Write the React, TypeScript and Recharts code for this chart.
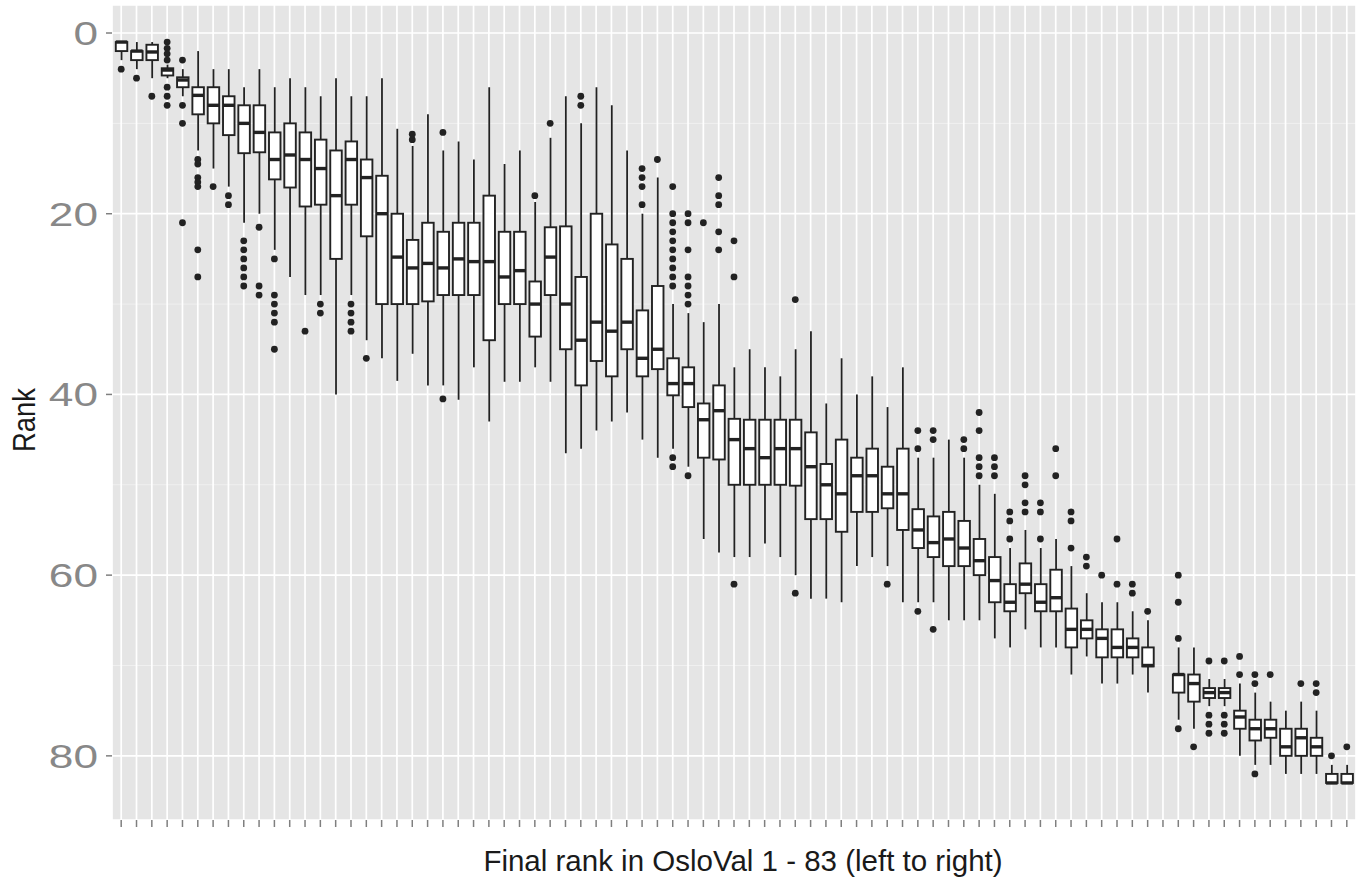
import React from "react";
import {
  Bar,
  CartesianGrid,
  ComposedChart,
  Label,
  Scatter,
  XAxis,
  YAxis,
} from "recharts";

// 81 final-rank categories (category 69 has no data)
const categoryIds = Array.from({ length: 81 }, (_, i) => i + 1);

const whiskerLo = [
  1, 1, 1, 3.5, 4, 2, 4, 4, 6, 4,
  6, 5, 6, 7, 5, 7, 7, 5, 10.6, 12.5,
  9, 13, 12, 14, 6, 14.5, 13, 18.7, 11.6, 7,
  10, 6, 8, 13, 20, 16, 30, 31, 32, 30,
  37, 35, 37, 38, 35, 33, 41, 36, 40, 38,
  41.4, 37, 47, 47, 45, 47, 50, 51, 57, 55,
  57, 56, 59, 62, 63, 63, 64, 65, null, 68,
  68, 71.5, 71.5, 72, 73, 74, 75, 74, 75, 81,
  81,
];

const q1s = [
  1, 2, 1.3, 3.9, 4.9, 6, 6, 7, 8, 8,
  11, 10, 11, 11.8, 13, 12, 14, 15.8, 20, 22.9,
  21, 22, 21, 21, 18, 22, 22, 27.5, 21.5, 21.4,
  27, 20, 23.4, 25, 30.7, 28, 36, 37, 41, 39,
  42.7, 42.8, 42.8, 42.8, 42.8, 44.2, 47.7, 45, 47, 46,
  48, 46, 52.7, 53.5, 53, 54, 56, 58, 61, 58.7,
  61, 59.4, 63.7, 65, 66, 66, 67, 68, null, 71,
  71, 72.5, 72.5, 75, 76, 76, 77, 77, 78, 82,
  82,
];

const medians = [
  1, 2, 2.1, 4.1, 5.2, 6.9, 8, 8, 10, 11,
  14, 13.5, 14, 15, 18, 14, 16, 20, 24.8, 26,
  25.5, 26, 25, 25.3, 25.3, 27, 26.3, 30, 24.8, 30,
  34, 32, 33, 32, 36, 35, 38.8, 38.8, 42.8, 41.8,
  45, 46, 47, 46, 46, 48, 50, 51, 49, 49,
  51, 51, 55, 56.4, 56, 57, 58.4, 60.6, 63, 61,
  63, 62.5, 66, 66, 67, 68, 68, 70, null, 71,
  72, 73, 73, 75.7, 77, 77, 79, 78, 79, 83,
  83,
];

const q3s = [
  2, 3, 3, 4.7, 6, 9, 10, 11.3, 13.3, 13.2,
  16.2, 17.1, 19.2, 19, 25, 19, 22.5, 30, 30, 30,
  29.7, 29, 29, 29, 34, 30, 30, 33.6, 29, 35,
  39, 36.3, 38, 35, 38, 37.2, 40.1, 41.4, 47, 47.2,
  50, 50, 50, 50, 50.1, 53.8, 53.8, 55.2, 53, 53,
  52.6, 55, 57, 58, 59, 59, 60, 63, 64, 62,
  64, 64, 68, 67, 69.1, 69.1, 69.1, 70.1, null, 73,
  74, 73.6, 73.6, 77, 78.3, 78, 80, 80, 80, 83,
  83,
];

const whiskerHi = [
  3, 4, 5, 5, 7, 13, 15, 17, 21, 20,
  24, 27, 29, 29, 40, 29, 34, 36, 38.5, 35.5,
  39, 39, 40.6, 37, 43, 38.6, 38.6, 37, 38.6, 46.5,
  46, 44, 43, 42, 45, 47, 46, 48, 56, 57.5,
  58, 58, 56.5, 58, 60, 62.6, 62.6, 63, 59, 58,
  59, 63, 63, 63, 65, 65, 65, 67, 68, 66,
  68, 68, 71, 69, 72, 72, 71, 73, null, 76,
  77, 74.5, 74.5, 80, 81, 81, 82, 82, 82, 83,
  83,
];

const outliers = [
  [4], [5], [7], [1, 1.7, 2.3, 3, 6, 7, 8], [3, 8, 10, 21],
  [14, 14.5, 16, 16.5, 17, 24, 27], [17], [18, 19], [23, 24, 25, 26, 27, 28], [21.5, 28, 29],
  [25, 29, 30, 31, 32, 35], [], [33], [30, 31], [],
  [30, 31, 32, 33], [36], [], [], [11.2, 11.8],
  [], [11, 40.5], [], [], [],
  [], [], [18], [10], [],
  [7, 8], [], [], [], [15, 16, 17, 19],
  [14], [17, 20, 21, 22, 23, 24, 25, 26, 27, 28, 47, 48], [20, 21, 24, 27, 28, 29, 30, 49], [21], [16, 18, 19, 22, 24],
  [23, 27, 61], [], [], [], [29.5, 62],
  [], [], [], [], [],
  [61], [], [44, 46, 64], [44, 45, 66], [],
  [45, 46], [42, 44, 47, 48, 49], [47, 48, 49], [53, 54, 56], [49, 50, 52, 53],
  [52, 53, 56], [46, 49], [53, 54, 57], [58, 59], [60],
  [56, 61], [61, 62], [64], [], [60, 63, 67, 77],
  [79], [69.5, 75.5, 76.5, 77.5], [69.5, 75.5, 76.5, 77.5], [69, 71], [71, 72, 82],
  [71], [], [72], [72, 73], [80],
  [79],
];

const rankTicks = [0, 20, 40, 60, 80];
const minorRanks = [10, 30, 50, 70];

const boxRows = categoryIds
  .map((idx, i) => ({
    idx,
    lo: whiskerLo[i],
    q1: q1s[i],
    med: medians[i],
    q3: q3s[i],
    hi: whiskerHi[i],
    span: [whiskerLo[i], whiskerHi[i]],
  }))
  .filter((r) => r.lo != null);

const outlierRows = categoryIds.flatMap((idx, i) =>
  outliers[i].map((rank) => ({ idx, rank }))
);

const INK = "#222222";
const BOX_W = 11.5;

function BoxShape(props: any) {
  const { x, y, width, height, payload } = props;
  if (!payload || payload.lo == null) return null;
  const cx = x + width / 2;
  const top = Math.min(y, y + height);
  const span = Math.abs(height);
  const range = payload.hi - payload.lo;
  // axis is reversed: the smaller rank sits at the top
  const px = (v: number) => (range === 0 ? top : top + ((v - payload.lo) / range) * span);
  const yq1 = px(payload.q1);
  const yq3 = px(payload.q3);
  const ymed = px(payload.med);
  return (
    <g>
      <line x1={cx} x2={cx} y1={top} y2={top + span} stroke={INK} strokeWidth={1.8} />
      <rect
        x={cx - BOX_W / 2}
        y={yq1}
        width={BOX_W}
        height={Math.max(yq3 - yq1, 0.5)}
        fill="#ffffff"
        stroke={INK}
        strokeWidth={1.9}
      />
      <line x1={cx - BOX_W / 2} x2={cx + BOX_W / 2} y1={ymed} y2={ymed} stroke={INK} strokeWidth={3.4} />
    </g>
  );
}

function OutlierDot(props: any) {
  const { cx, cy } = props;
  if (cx == null || cy == null) return null;
  return <circle cx={cx} cy={cy} r={3.4} fill={INK} />;
}

function RankTick(props: any) {
  const { x, y, payload } = props;
  return (
    <g transform={`translate(${x},${y}) scale(1.3,1)`}>
      <text
        x={0}
        y={0}
        dy={12}
        textAnchor="end"
        fill="#888888"
        fontSize={34}
        fontFamily="'Liberation Sans', Arial, sans-serif"
      >
        {payload.value}
      </text>
    </g>
  );
}

export default function App() {
  return (
    <div style={{ position: "absolute", left: 0, top: 0, width: 1360, height: 880, background: "#ffffff" }}>
      <ComposedChart
        width={1360}
        height={880}
        data={boxRows}
        margin={{ top: 5, right: 4, bottom: 0, left: 8 }}
      >
        <CartesianGrid
          horizontalValues={minorRanks}
          vertical={false}
          stroke="#F2F2F2"
          strokeWidth={0.9}
          fill="#E5E5E5"
          fillOpacity={1}
        />
        <CartesianGrid stroke="#FFFFFF" strokeWidth={1.7} />
        <XAxis
          dataKey="idx"
          type="number"
          domain={[0.4, 81.6]}
          ticks={categoryIds}
          allowDataOverflow
          interval={0}
          tickFormatter={() => ""}
          axisLine={false}
          tickSize={7}
          tickLine={{ stroke: "#7F7F7F", strokeWidth: 1.5 }}
          height={60}
        >
          <Label
            content={(p: any) => {
              const vb = p.viewBox || { x: 112, width: 1244 };
              return (
                <text
                  x={vb.x + vb.width / 2 + 9}
                  y={871}
                  textAnchor="middle"
                  fill="#1a1a1a"
                  fontSize={29.5}
                  fontFamily="'Liberation Sans', Arial, sans-serif"
                >
                  Final rank in OsloVal 1 - 83 (left to right)
                </text>
              );
            }}
          />
        </XAxis>
        <YAxis
          type="number"
          reversed
          domain={[-3.1, 87.1]}
          ticks={rankTicks}
          allowDataOverflow
          axisLine={false}
          tickSize={6}
          tickMargin={8}
          tickLine={{ stroke: "#7F7F7F", strokeWidth: 1.5 }}
          tick={<RankTick />}
          width={104}
        >
          <Label
            content={() => (
              <text
                x={35}
                y={420}
                transform="rotate(-90, 35, 420)"
                textAnchor="middle"
                fill="#1a1a1a"
                fontSize={31}
                textLength={64}
                lengthAdjust="spacingAndGlyphs"
                fontFamily="'Liberation Sans', Arial, sans-serif"
              >
                Rank
              </text>
            )}
          />
        </YAxis>
        <Bar dataKey="span" barSize={12} shape={<BoxShape />} isAnimationActive={false} />
        <Scatter data={outlierRows} dataKey="rank" shape={<OutlierDot />} isAnimationActive={false} />
      </ComposedChart>
    </div>
  );
}
